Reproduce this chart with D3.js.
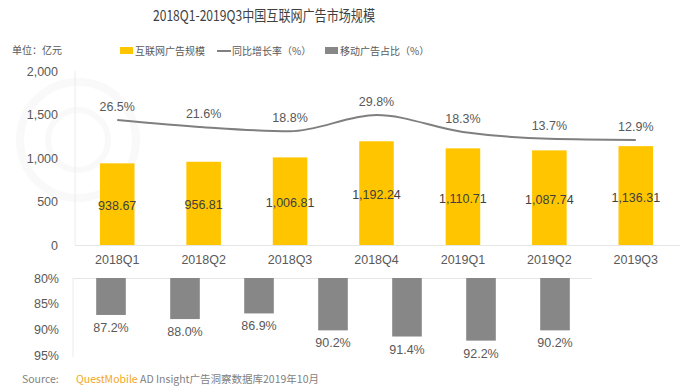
<!DOCTYPE html>
<html>
<head>
<meta charset="utf-8">
<script src="https://cdn.jsdelivr.net/npm/d3@7"></script>
<style>
  body { margin: 0; background: #fff; }
  svg { font-family: "Liberation Sans", Arial, "Noto Sans CJK SC", sans-serif; }
  .cjk { font-family: "Noto Sans CJK SC", "Liberation Sans", sans-serif; }
</style>
</head>
<body>
<div id="chart"></div>
<script>
// data
var quarters = ['2018Q1', '2018Q2', '2018Q3', '2018Q4', '2019Q1', '2019Q2', '2019Q3'];
var adRevenue = [938.67, 956.81, 1006.81, 1192.24, 1110.71, 1087.74, 1136.31];
var growthRate = [26.5, 21.6, 18.8, 29.8, 18.3, 13.7, 12.9];
var mobileShare = [87.2, 88.0, 86.9, 90.2, 91.4, 92.2, 90.2];
var revTicks = [0, 500, 1000, 1500, 2000];
var shareTicks = [80, 85, 90, 95];

var w = 692, h = 388;
var textCol = '#595959';

var svg = d3.select('#chart').append('svg')
  .attr('width', w)
  .attr('height', h);

svg.append('rect').attr('width', w).attr('height', h).attr('fill', '#fff');

// faint watermark logo
var wm = svg.append('g').attr('fill', 'none').attr('stroke', '#f9f9f9');
wm.append('circle').attr('cx', 78).attr('cy', 140).attr('r', 58).attr('stroke-width', 8);
wm.append('circle').attr('cx', 78).attr('cy', 140).attr('r', 30).attr('stroke-width', 6);

// title
svg.append('text')
  .attr('class', 'cjk')
  .attr('x', 153).attr('y', 21)
  .attr('font-size', 15)
  .attr('textLength', 222)
  .attr('lengthAdjust', 'spacingAndGlyphs')
  .attr('fill', '#404040')
  .text('2018Q1-2019Q3中国互联网广告市场规模');

svg.append('text')
  .attr('class', 'cjk')
  .attr('x', 12).attr('y', 54)
  .attr('font-size', 10)
  .attr('fill', textCol)
  .text('单位：亿元');

// legend
var legend = svg.append('g').attr('class', 'cjk').attr('font-size', 10).attr('fill', textCol);
legend.append('rect').attr('x', 120).attr('y', 47).attr('width', 13).attr('height', 7).attr('fill', '#FFC600');
legend.append('text').attr('x', 135).attr('y', 54.5).text('互联网广告规模');
legend.append('line').attr('x1', 217).attr('x2', 231).attr('y1', 51).attr('y2', 51)
  .attr('stroke', '#808080').attr('stroke-width', 2);
legend.append('text').attr('x', 232).attr('y', 54.5).text('同比增长率（%）');
legend.append('rect').attr('x', 325).attr('y', 47).attr('width', 13).attr('height', 7).attr('fill', '#878787');
legend.append('text').attr('x', 340).attr('y', 54.5).text('移动广告占比（%）');

// ---- top chart: revenue bars + growth line
var x1 = d3.scaleBand().domain(quarters).range([74, 679]).paddingInner(0.6).paddingOuter(0.3);
var y1 = d3.scaleLinear().domain([0, 2000]).range([245, 71]);
var yRate = d3.scaleLinear().domain([0, 40]).range([159, 100]);

var topG = svg.append('g');

topG.append('line').attr('x1', 75).attr('x2', 75).attr('y1', 71).attr('y2', 245).attr('stroke', '#ececec');
topG.append('line').attr('x1', 75).attr('x2', 680).attr('y1', 245.5).attr('y2', 245.5).attr('stroke', '#e6e6e6');

var yAx1 = topG.append('g')
  .attr('transform', 'translate(61,0)')
  .call(d3.axisLeft(y1).tickValues(revTicks).tickSize(0).tickFormat(d3.format(',')));
yAx1.attr('font-family', null).attr('font-size', 12.5);
yAx1.select('.domain').remove();
yAx1.selectAll('text').attr('fill', textCol);

topG.selectAll('rect.rev')
  .data(adRevenue)
  .enter().append('rect')
  .attr('class', 'rev')
  .attr('x', function(d, i) { return x1(quarters[i]); })
  .attr('width', x1.bandwidth())
  .attr('y', function(d) { return y1(d); })
  .attr('height', function(d) { return y1(0) - y1(d); })
  .attr('fill', '#FFC600');

topG.selectAll('text.rev')
  .data(adRevenue)
  .enter().append('text')
  .attr('class', 'rev')
  .attr('x', function(d, i) { return x1(quarters[i]) + x1.bandwidth() / 2; })
  .attr('y', function(d) { return (y1(d) + y1(0)) / 2 + 6; })
  .attr('text-anchor', 'middle')
  .attr('font-size', 12.5)
  .attr('fill', '#404040')
  .text(function(d) { return d3.format(',.2f')(d); });

var xAx1 = topG.append('g')
  .attr('transform', 'translate(0,250)')
  .call(d3.axisBottom(x1).tickSize(0));
xAx1.attr('font-family', null).attr('font-size', 12.5);
xAx1.select('.domain').remove();
xAx1.selectAll('text').attr('fill', textCol).attr('dy', '0.9em');

var line = d3.line()
  .x(function(d, i) { return x1(quarters[i]) + x1.bandwidth() / 2; })
  .y(function(d) { return yRate(d); })
  .curve(d3.curveMonotoneX);

topG.append('path')
  .datum(growthRate)
  .attr('d', line)
  .attr('fill', 'none')
  .attr('stroke', '#7f7f7f')
  .attr('stroke-width', 2);

topG.selectAll('text.rate')
  .data(growthRate)
  .enter().append('text')
  .attr('class', 'rate')
  .attr('x', function(d, i) { return x1(quarters[i]) + x1.bandwidth() / 2; })
  .attr('y', function(d) { return yRate(d) - 9; })
  .attr('text-anchor', 'middle')
  .attr('font-size', 12.5)
  .attr('fill', textCol)
  .text(function(d) { return d.toFixed(1) + '%'; });

// ---- bottom chart: mobile share bars hanging from 80%
var x2 = d3.scaleBand().domain(quarters).range([74, 592]).paddingInner(0.6).paddingOuter(0.3);
var y2 = d3.scaleLinear().domain([80, 95]).range([278, 355]);

var bot = svg.append('g');

bot.append('line').attr('x1', 73).attr('x2', 73).attr('y1', 278).attr('y2', 357).attr('stroke', '#ececec');
bot.append('line').attr('x1', 73).attr('x2', 592).attr('y1', 278.5).attr('y2', 278.5).attr('stroke', '#e6e6e6');

var yAx2 = bot.append('g')
  .attr('transform', 'translate(62,0)')
  .call(d3.axisLeft(y2).tickValues(shareTicks).tickSize(0).tickFormat(function(d) { return d + '%'; }));
yAx2.attr('font-family', null).attr('font-size', 12.5);
yAx2.select('.domain').remove();
yAx2.selectAll('text').attr('fill', textCol);

bot.selectAll('rect.share')
  .data(mobileShare)
  .enter().append('rect')
  .attr('class', 'share')
  .attr('x', function(d, i) { return x2(quarters[i]); })
  .attr('width', x2.bandwidth())
  .attr('y', y2(80))
  .attr('height', function(d) { return y2(d) - y2(80); })
  .attr('fill', '#878787');

bot.selectAll('text.share')
  .data(mobileShare)
  .enter().append('text')
  .attr('class', 'share')
  .attr('x', function(d, i) { return x2(quarters[i]) + x2.bandwidth() / 2; })
  .attr('y', function(d) { return y2(d) + 17; })
  .attr('text-anchor', 'middle')
  .attr('font-size', 12.5)
  .attr('fill', textCol)
  .text(function(d) { return d.toFixed(1) + '%'; });

// source line
var srcG = svg.append('g').attr('class', 'cjk').attr('font-size', 10.5).attr('fill', '#7f7f7f');
srcG.append('text').attr('x', 22).attr('y', 383).text('Source:');
var src = srcG.append('text').attr('x', 76).attr('y', 383);
src.append('tspan').attr('fill', '#F4A622').text('QuestMobile');
src.append('tspan').text(' AD Insight广告洞察数据库2019年10月');
</script>
</body>
</html>
